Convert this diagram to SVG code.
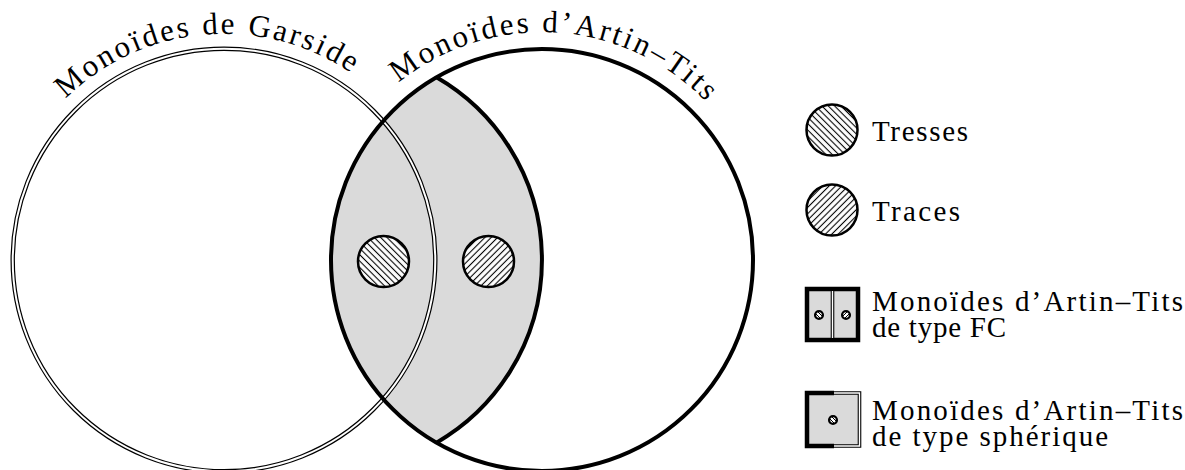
<svg xmlns="http://www.w3.org/2000/svg" width="1185" height="470" viewBox="0 0 1185 470">
<style>
.t{font-family:"Liberation Serif","DejaVu Serif",serif;font-size:29px;fill:#000}
.arc{font-family:"Liberation Serif","DejaVu Serif",serif;font-size:31px;fill:#000}
.bold{fill:none;stroke:#000;stroke-width:4}
.dblo{fill:none;stroke:#000;stroke-width:4.4}
.dbli{fill:none;stroke:#fff;stroke-width:2}
.hc{stroke:#000;stroke-width:2.5}
</style>
<defs>
<pattern id="hB" patternUnits="userSpaceOnUse" width="4.5" height="10" patternTransform="rotate(-45)">
<rect width="4.5" height="10" fill="#fff"/><line x1="2.25" y1="0" x2="2.25" y2="10" stroke="#000" stroke-width="1.1"/>
</pattern>
<pattern id="hF" patternUnits="userSpaceOnUse" width="4.5" height="10" patternTransform="rotate(45)">
<rect width="4.5" height="10" fill="#fff"/><line x1="2.25" y1="0" x2="2.25" y2="10" stroke="#000" stroke-width="1.1"/>
</pattern>
<path id="arcG" d="M 1.4 220.8 A 226 226 0 0 1 446.6 220.8"/>
<path id="arcA" d="M 317.5 220.4 A 228 228 0 0 1 766.5 220.4"/>
<g id="miniB"><circle r="3.9" fill="#fff" stroke="#000" stroke-width="2.3"/><line x1="-3.2" y1="-1.2" x2="1.2" y2="3.2" stroke="#000" stroke-width="1"/><line x1="-1.2" y1="-3.2" x2="3.2" y2="1.2" stroke="#000" stroke-width="1"/></g>
<g id="miniF"><circle r="3.9" fill="#fff" stroke="#000" stroke-width="2.3"/><line x1="-3.2" y1="1.2" x2="1.2" y2="-3.2" stroke="#000" stroke-width="1"/><line x1="-1.2" y1="3.2" x2="3.2" y2="-1.2" stroke="#000" stroke-width="1"/></g>
</defs>
<rect width="1185" height="470" fill="#fff"/>
<g id="lens">
<path d="M 436.5 77.3 A 211 211 0 0 0 436.5 442.7 A 211 211 0 0 0 436.5 77.3 Z" fill="#dadada"/>
</g>
<g id="garside">
<circle cx="224" cy="260" r="211.3" class="dblo"/>
<circle cx="224" cy="260" r="211.3" class="dbli"/>
<text class="arc" font-family="Liberation Serif, DejaVu Serif, serif" letter-spacing="2.5"><textPath href="#arcG" startOffset="140">Monoïdes de Garside</textPath></text>
</g>
<g id="artin">
<circle cx="542" cy="260" r="211" class="bold"/>
<path d="M 436.5 77.3 A 211 211 0 0 1 436.5 442.7" class="bold"/>
<text class="arc" font-family="Liberation Serif, DejaVu Serif, serif" letter-spacing="2.6"><textPath href="#arcA" startOffset="163">Monoïdes d’Artin–Tits</textPath></text>
</g>
<g id="tresses-node"><circle cx="383.5" cy="261.5" r="25.5" fill="url(#hB)" class="hc"/></g>
<g id="traces-node"><circle cx="488.5" cy="261.5" r="25.5" fill="url(#hF)" class="hc"/></g>
<g id="connectors"></g>
<g id="legend-tresses">
<circle cx="832" cy="130" r="25.5" fill="url(#hB)" class="hc"/>
<text class="t" x="872" y="141" textLength="96">Tresses</text>
</g>
<g id="legend-traces">
<circle cx="832" cy="210" r="25.5" fill="url(#hF)" class="hc"/>
<text class="t" x="872" y="221" textLength="88">Traces</text>
</g>
<g id="legend-fc">
<rect x="807" y="289" width="51" height="51" fill="#dadada" stroke="#000" stroke-width="4.5"/>
<line x1="832.5" y1="291" x2="832.5" y2="338" stroke="#000" stroke-width="3.6"/>
<line x1="832.5" y1="291" x2="832.5" y2="338" stroke="#fff" stroke-width="1.4"/>
<use href="#miniB" x="819" y="315"/>
<use href="#miniF" x="846" y="315"/>
<text class="t" x="872" y="311" textLength="311">Monoïdes d’Artin–Tits</text>
<text class="t" x="872" y="337" textLength="134">de type FC</text>
</g>
<g id="legend-spherique">
<rect x="807" y="393" width="52" height="53" fill="#dadada"/>
<path d="M 833 393 H 859.5 V 446 H 833" fill="none" stroke="#000" stroke-width="3.6"/>
<path d="M 833 393 H 859.5 V 446 H 833" fill="none" stroke="#fff" stroke-width="1.4"/>
<path d="M 834 393 H 807 V 446 H 834" fill="none" stroke="#000" stroke-width="4.5"/>
<use href="#miniB" x="833" y="420"/>
<text class="t" x="872" y="420" textLength="311">Monoïdes d’Artin–Tits</text>
<text class="t" x="872" y="446" textLength="236">de type sphérique</text>
</g>
</svg>
